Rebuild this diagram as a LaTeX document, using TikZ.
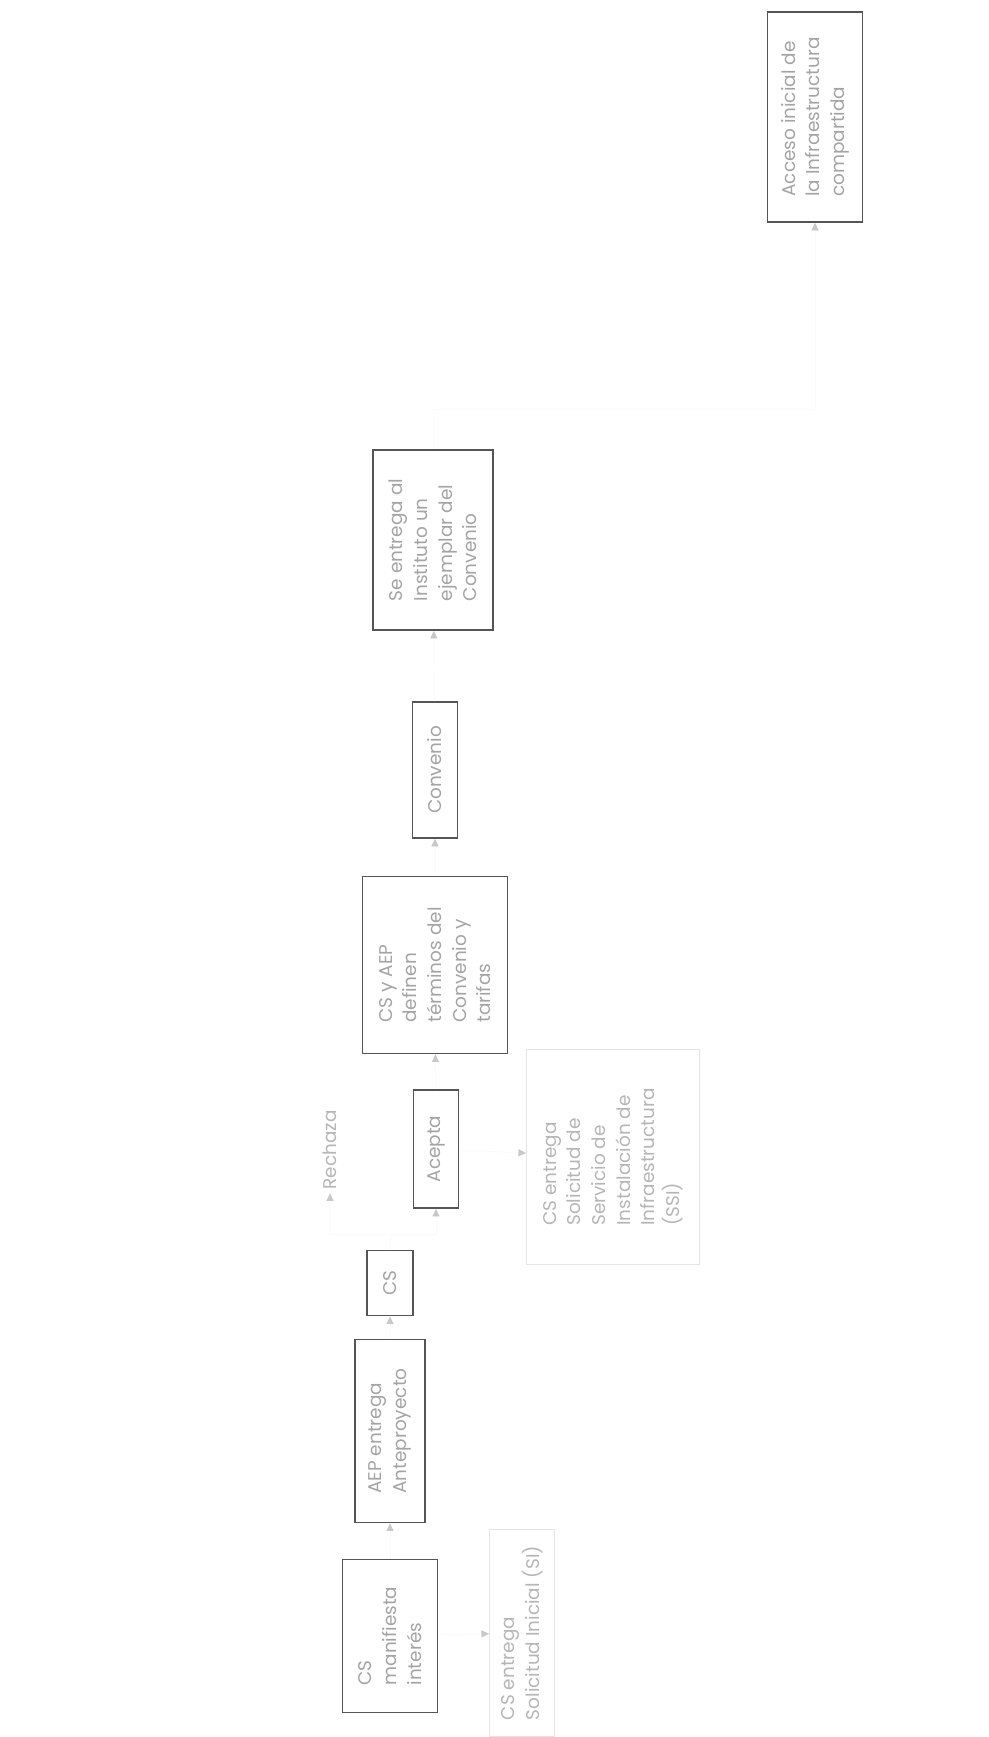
\documentclass[tikz,border=0pt]{standalone}
\usepackage{fontspec}
\setmainfont{Poppins}
\usepackage{xcolor}
\usepackage{tikz}
\usetikzlibrary{arrows.meta,calc}
\definecolor{SCANbox}{HTML}{555555}
\definecolor{SCANtext}{HTML}{A4A4A4}
\definecolor{SCANfaint}{HTML}{E4E4E4}
\definecolor{SCANhead}{HTML}{C8C8C8}
\definecolor{SCANline}{HTML}{FAFAFA}
\tikzset{
  procbox/.style={rotate=90, draw=SCANbox, line width=1pt, fill=white, align=left, inner sep=2pt, text=SCANtext, font=\fontsize{10.5}{14}\selectfont},
  notebox/.style={rotate=90, draw=SCANfaint, line width=0.6pt, align=left, inner sep=2pt, text=SCANtext!80, font=\fontsize{10.5}{14}\selectfont},
  notetext/.style={rotate=90, align=left, inner sep=2pt, text=SCANtext!80, font=\fontsize{10.5}{14}\selectfont},
  flowarr/.style={-{Triangle[length=1.5mm, width=1.4mm, color=SCANhead]}, draw=SCANline, line width=0.4pt}
}
\begin{document}
\begin{tikzpicture}[x=0.02cm, y=-0.02cm]
\fill[white] (0,0) rectangle (988,1737);
\useasboundingbox (0,0) rectangle (988,1737);
% main chain, read bottom to top
\node[procbox, minimum width=3.06cm, minimum height=1.90cm] (interes) at (390,1636) {CS\\manifiesta\\interés};
\node[procbox, minimum width=3.66cm, minimum height=1.40cm] (antep) at (390,1431) {AEP entrega\\Anteproyecto};
\node[procbox, minimum width=1.30cm, minimum height=0.92cm] (cs) at (390,1283) {CS};
\node[procbox, minimum width=2.36cm, minimum height=0.90cm] (acepta) at (436,1149) {Acepta};
\node[procbox, minimum width=3.54cm, minimum height=2.90cm] (terminos) at (435,965) {CS y AEP\\definen\\términos del\\Convenio y\\tarifas};
\node[procbox, minimum width=2.72cm, minimum height=0.90cm] (convenio) at (435,770) {Convenio};
\node[procbox, minimum width=3.60cm, minimum height=2.40cm] (ejemplar) at (433,540) {Se entrega al\\Instituto un\\ejemplar del\\Convenio};
\node[procbox, minimum width=4.20cm, minimum height=1.90cm] (acceso) at (815,117) {Acceso inicial de\\la Infraestructura\\compartida};
% faint side notes
\node[notetext] (rechaza) at (330,1150) {Rechaza};
\node[notebox, minimum width=4.14cm, minimum height=1.30cm] (si) at (522,1633) {CS entrega\\Solicitud Inicial (SI)};
\node[notebox, minimum width=4.30cm, minimum height=3.46cm] (ssi) at (613,1157) {CS entrega\\Solicitud de\\Servicio de\\Instalación de\\Infraestructura\\(SSI)};
% connectors
\draw[flowarr] (interes) -- (antep);
\draw[flowarr] (antep) -- (cs);
\draw[flowarr] (cs.east) -- ++(0,-15) -| (acepta.west);
\draw[flowarr] (cs.east) -- ++(0,-15) -| (rechaza.west);
\draw[flowarr] (acepta) -- (terminos);
\draw[flowarr] (terminos) -- (convenio);
\draw[flowarr] (convenio) -- (ejemplar);
\draw[flowarr] (ejemplar.east) -- ++(0,-40) -| (acceso.west);
\draw[flowarr] (interes) -- (si);
\draw[flowarr] (acepta) -- (ssi);
\end{tikzpicture}
\end{document}
